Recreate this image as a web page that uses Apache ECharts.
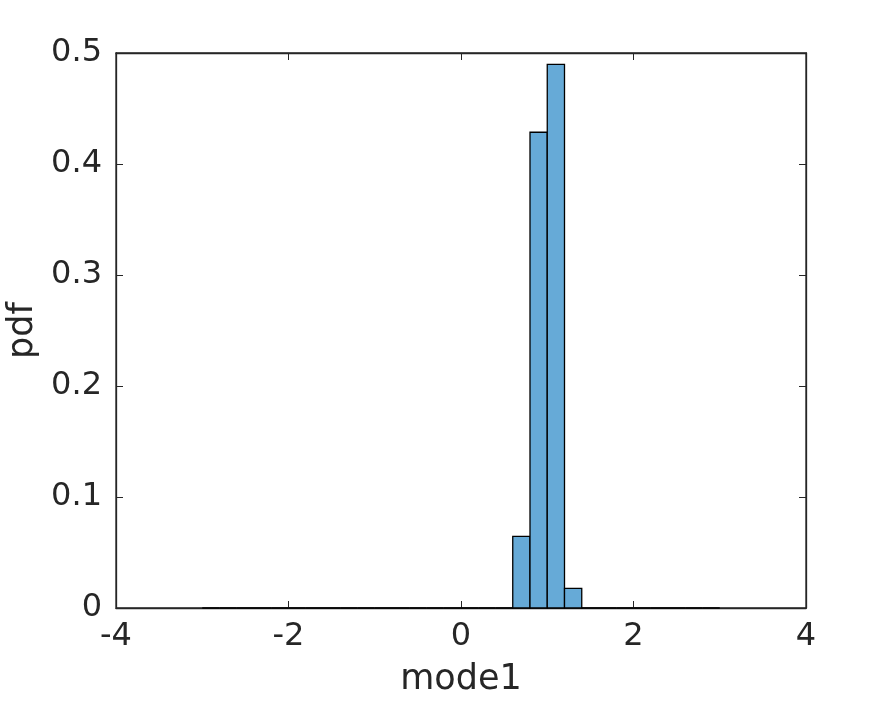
<!DOCTYPE html>
<html><head><meta charset="utf-8">
<script src="https://cdn.jsdelivr.net/npm/echarts@6/dist/echarts.min.js"></script>
<style>html,body{margin:0;padding:0;background:#fff}#c{width:891px;height:703px}</style>
</head><body><div id="c"></div>
<script>
// Histogram bin edges start / width and bin values (pdf)
const binStart = -3;
const binWidth = 0.2;
const binValues = [0,0,0,0,0,0,0,0,0,0, 0,0,0,0,0,0,0,0,0.0646,0.4286, 0.4898,0.0177,0,0,0,0,0,0,0,0];
const xTicks = [-4,-2,0,2,4];
const yTicks = [0,0.1,0.2,0.3,0.4,0.5];

const data = binValues.map((v,i)=>[binStart+i*binWidth, binStart+(i+1)*binWidth, v]);
const txt = '#262626';
const font = 'DejaVu Sans';
const chart = echarts.init(document.getElementById('c'));
chart.setOption({
  animation:false,
  grid:{left:116,top:53,width:690,height:555,show:true,borderColor:txt,borderWidth:1.3,
    containLabel:false,outerBoundsMode:'none'},
  xAxis:[{type:'value',min:-4,max:4,interval:2,
    name:'mode1',nameLocation:'middle',nameGap:54,
    nameTextStyle:{fontSize:35,color:txt,fontFamily:font},
    axisLine:{show:true,onZero:false,lineStyle:{color:txt,width:1.3}},
    axisTick:{show:true,inside:true,length:7,lineStyle:{color:txt}},
    axisLabel:{fontSize:32,color:txt,fontFamily:font,margin:13},
    splitLine:{show:false}},
   {type:'value',position:'top',min:-4,max:4,interval:2,
    axisLine:{show:true,onZero:false,lineStyle:{color:txt,width:1.3}},
    axisTick:{show:true,inside:true,length:7,lineStyle:{color:txt}},
    axisLabel:{show:false},splitLine:{show:false}}],
  yAxis:[{type:'value',min:0,max:0.5,interval:0.1,
    name:'pdf',nameLocation:'middle',nameGap:68,
    nameTextStyle:{fontSize:35,color:txt,fontFamily:font},
    axisLine:{show:true,onZero:false,lineStyle:{color:txt,width:1.3}},
    axisTick:{show:true,inside:true,length:7,lineStyle:{color:txt}},
    axisLabel:{fontSize:32,color:txt,fontFamily:font,margin:14},
    splitLine:{show:false}},
   {type:'value',position:'right',min:0,max:0.5,interval:0.1,
    axisLine:{show:true,onZero:false,lineStyle:{color:txt,width:1.3}},
    axisTick:{show:true,inside:true,length:7,lineStyle:{color:txt}},
    axisLabel:{show:false},splitLine:{show:false}}],
  series:[{type:'custom',xAxisIndex:0,yAxisIndex:0,data:data,
    renderItem:function(params,api){
      const p0 = api.coord([api.value(0), api.value(2)]);
      const p1 = api.coord([api.value(1), 0]);
      return {type:'rect',shape:{x:p0[0],y:p0[1],width:p1[0]-p0[0],height:p1[1]-p0[1]},
        style:{fill:'#66AAD7',stroke:'#000',lineWidth:1.3}};
    }}]
});
</script></body></html>
